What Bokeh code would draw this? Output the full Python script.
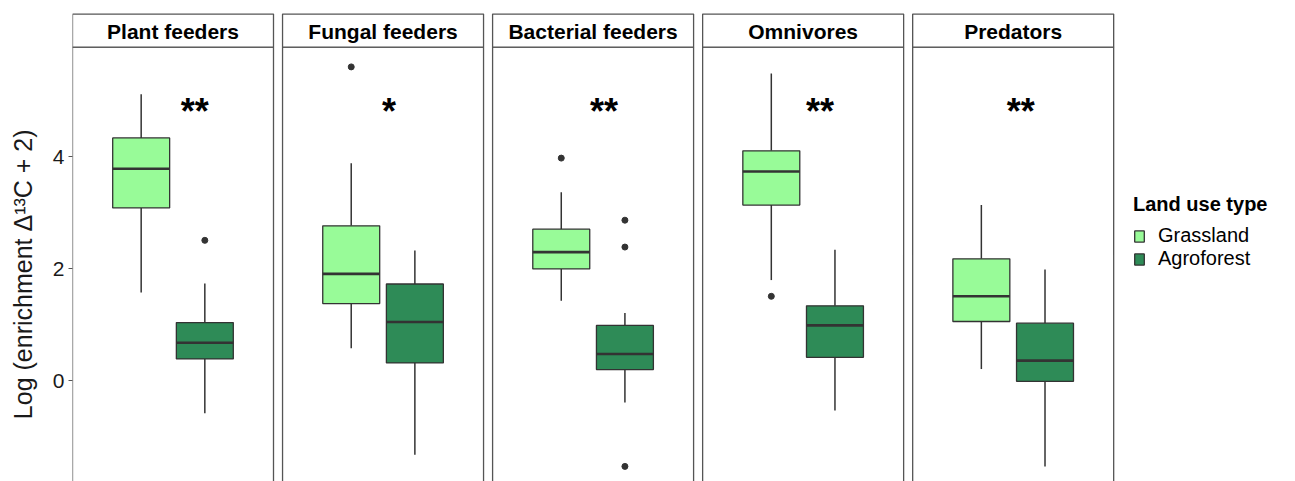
from bokeh.plotting import figure
from bokeh.models import ColumnDataSource, FixedTicker, Range1d, Legend, LegendItem
from bokeh.core.properties import value
from bokeh.embed import file_html
from bokeh.resources import INLINE

# ---------------- data ----------------
groups = ["Plant feeders", "Fungal feeders", "Bacterial feeders", "Omnivores", "Predators"]
land_types = ["Grassland", "Agroforest"]

grass_lo  = [1.58, 0.58, 1.43, 1.80, 0.21]
grass_q1  = [3.09, 1.38, 2.00, 3.14, 1.06]
grass_med = [3.79, 1.91, 2.30, 3.74, 1.51]
grass_q3  = [4.34, 2.77, 2.71, 4.11, 2.18]
grass_hi  = [5.12, 3.89, 3.37, 5.49, 3.14]

agro_lo  = [-0.58, -1.32, -0.39, -0.53, -1.53]
agro_q1  = [0.39, 0.32, 0.20, 0.42, -0.01]
agro_med = [0.68, 1.05, 0.48, 0.99, 0.36]
agro_q3  = [1.04, 1.73, 0.99, 1.34, 1.03]
agro_hi  = [1.74, 2.33, 1.21, 2.34, 1.99]

# outliers: (group index, land type, value)
out_group = [0, 1, 2, 2, 2, 2, 3]
out_land  = ["Agroforest", "Grassland", "Grassland", "Agroforest", "Agroforest", "Agroforest", "Grassland"]
out_value = [2.51, 5.61, 3.98, 2.87, 2.39, -1.53, 1.51]

signif = ["**", "*", "**", "**", "**"]
signif_x = [1.13, 1.035, 1.065, 1.10, 1.045]
signif_y = 4.86

y_ticks = [0, 2, 4]
y_title = "Log (enrichment  Δ¹³C + 2)"
legend_title = "Land use type"

# ---------------- layout constants ----------------
PITCH = 1.254          # panel pitch in x units
LOC = {"Grassland": 0.81, "Agroforest": 1.19}
BOX_W = 0.34
COLORS = {"Grassland": "#98FB98", "Agroforest": "#2E8B57"}
LINE = "#333333"
PANEL_TOP = 5.964
STRIP_TOP = 6.554
Y_BOT = -1.8

p = figure(width=1288, height=481, output_backend="svg", toolbar_location=None,
           x_range=Range1d(0.4, 0.4 + 1216 / 167.5), y_range=Range1d(Y_BOT, 6.6),
           min_border_left=72, min_border_right=0, min_border_top=11, min_border_bottom=0)
p.xaxis.visible = False
p.xgrid.visible = False
p.ygrid.visible = False
p.outline_line_color = None
p.background_fill_color = "white"

# panels and strips
px0 = [0.4 + i * PITCH for i in range(len(groups))]
px1 = [1.6 + i * PITCH for i in range(len(groups))]
p.quad(left=px0, right=px1, bottom=Y_BOT - 1, top=PANEL_TOP,
       fill_color="white", line_color="#555555", line_width=1.3)
p.quad(left=px0, right=px1, bottom=PANEL_TOP, top=STRIP_TOP,
       fill_color="white", line_color="#555555", line_width=1.3)
p.text(x=[(a + b) / 2 for a, b in zip(px0, px1)], y=[(PANEL_TOP + STRIP_TOP) / 2] * len(groups),
       text=groups, text_align="center", text_baseline="middle",
       text_font=value("Liberation Sans"), text_font_style="bold",
       text_font_size="21px", text_color="black", y_offset=1)

renderers = {}
for lt, lo, q1, med, q3, hi in [
    ("Grassland", grass_lo, grass_q1, grass_med, grass_q3, grass_hi),
    ("Agroforest", agro_lo, agro_q1, agro_med, agro_q3, agro_hi),
]:
    xs = [i * PITCH + LOC[lt] for i in range(len(groups))]
    src = ColumnDataSource(dict(x=xs, lo=lo, q1=q1, med=med, q3=q3, hi=hi,
                                x0=[x - BOX_W / 2 for x in xs], x1=[x + BOX_W / 2 for x in xs]))
    p.segment(x0="x", y0="q3", x1="x", y1="hi", source=src, line_color=LINE, line_width=1.5)
    p.segment(x0="x", y0="lo", x1="x", y1="q1", source=src, line_color=LINE, line_width=1.5)
    r = p.vbar(x="x", bottom="q1", top="q3", width=BOX_W, source=src,
               fill_color=COLORS[lt], line_color=LINE, line_width=1.3)
    renderers[lt] = r
    p.segment(x0="x0", y0="med", x1="x1", y1="med", source=src, line_color=LINE, line_width=2.6)

ox = [g * PITCH + LOC[l] for g, l in zip(out_group, out_land)]
p.scatter(x=ox, y=out_value, size=6, fill_color=LINE, line_color=LINE)

p.text(x=[i * PITCH + sx for i, sx in enumerate(signif_x)], y=[signif_y] * len(groups),
       text=signif, text_align="center", text_baseline="middle",
       text_font=value("Liberation Sans"), text_font_style="bold",
       text_font_size="36px", text_color="black", y_offset=3)

# y axis
p.yaxis.ticker = FixedTicker(ticks=y_ticks)
p.yaxis.minor_tick_line_color = None
p.yaxis.axis_line_color = None
p.yaxis.major_tick_in = 0
p.yaxis.major_tick_out = 4
p.yaxis.major_tick_line_color = "#555555"
p.yaxis.major_label_text_font = "Liberation Sans"
p.yaxis.major_label_text_font_size = "21px"
p.yaxis.major_label_text_color = "#1a1a1a"
p.yaxis.major_label_standoff = 4
# trailing no-break spaces push the title down, as in the reference (its panels run past the crop)
p.yaxis.axis_label = y_title + "\u00a0" * 7
p.yaxis.axis_label_text_font = "Liberation Sans"
p.yaxis.axis_label_text_font_size = "25px"
p.yaxis.axis_label_text_font_style = "normal"
p.yaxis.axis_label_text_color = "#1a1a1a"
p.yaxis.axis_label_standoff = 13

legend = Legend(items=[LegendItem(label=lt, renderers=[renderers[lt]]) for lt in land_types],
                location=(1061, 211), title=legend_title,
                title_text_font="Liberation Sans", title_text_font_style="bold",
                title_text_font_size="20px", title_standoff=8, title_text_color="black",
                label_text_font="Liberation Sans", label_text_font_size="20px",
                label_text_color="black",
                label_height=19, glyph_height=14, glyph_width=12, spacing=-4,
                padding=0, border_line_color=None, background_fill_alpha=0, label_standoff=13)
p.add_layout(legend)

open("out.html", "w").write(file_html(p, INLINE))
